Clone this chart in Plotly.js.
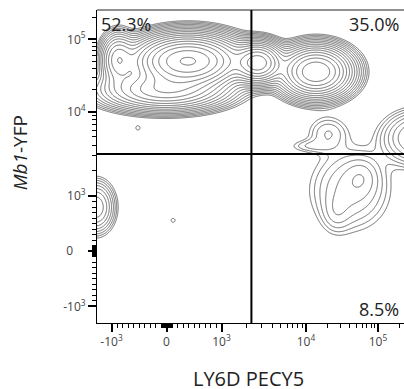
<!DOCTYPE html>
<html>
<head>
<meta charset="utf-8">
<script src="https://cdn.plot.ly/plotly-3.0.1.min.js"></script>
<style>html,body{margin:0;padding:0;background:#fff;}#chart{width:404px;height:389px;}</style>
</head>
<body>
<div id="chart"></div>
<script>
// ---- data ----
// cell populations: centre in LY6D / Mb1-YFP units, spread in display decades, relative weight
const popLy6d    = [390, 2700, 13800, -880, -27,
                    40800, 60100, 26200, 20200, 383000, 10700,
                    -1530, -520, 120];
const popMb1     = [50000, 47200, 35500, 52000, 19900,
                    1180, 1730, 673, 5570, 4860, 3910,
                    800, 6390, 560];
const popSpreadX = [0.45, 0.22, 0.31, 0.16, 0.55,
                    0.44, 0.20, 0.16, 0.24, 0.36, 0.25,
                    0.18, 0.055, 0.055];
const popSpreadY = [0.22, 0.18, 0.22, 0.24, 0.18,
                    0.45, 0.22, 0.22, 0.20, 0.26, 0.08,
                    0.25, 0.055, 0.055];
const popWeight  = [1.0, 0.45, 0.5, 0.12, 0.25,
                    0.016, 0.008, 0.006, 0.010, 0.05, 0.006,
                    0.05, 0.005, 0.005];

const gateLy6d = 2260;
const gateMb1 = 3140;
const quadrantText = ['52.3%', '35.0%', '8.5%'];

const majorVals = [-1000, 0, 1000, 10000, 100000];
const majorTextX = ['-10<sup>3</sup>', '0', '10<sup>3</sup>', '10<sup>4</sup>', '10<sup>5</sup>'];
const majorTextY = ['-10<sup>3</sup>', '0\u00a0\u00a0\u00a0\u00a0', '10<sup>3</sup>', '10<sup>4</sup>', '10<sup>5</sup>'];
const minorVals = [-900,-800,-700,-600,-500,-400,-300,-200,-100,
  -90,-80,-70,-60,-50,-40,-30,-20,-10,10,20,30,40,50,60,70,80,90,
  100,200,300,400,500,600,700,800,900,
  2000,3000,4000,5000,6000,7000,8000,9000,
  20000,30000,40000,50000,60000,70000,80000,90000,200000];

// ---- biexponential-like display scale ----
function toDisplay(v) {
  const a = Math.abs(v);
  let d;
  if (a <= 1000) return v / 1000;
  if (a <= 10000) d = 1 + (Math.log10(a) - 3) * 1.535;
  else d = 2.535 + (Math.log10(a) - 4) * 1.31;
  return v < 0 ? -d : d;
}

const xRange = [-1.264, 4.318];
const yRange = [-1.302, 4.377];

// density grid in display space
const nx = 240, ny = 246;
const gx = [], gy = [];
for (let i = 0; i < nx; i++) gx.push(xRange[0] + (xRange[1] - xRange[0]) * i / (nx - 1));
for (let j = 0; j < ny; j++) gy.push(yRange[0] + (yRange[1] - yRange[0]) * j / (ny - 1));
const cx = popLy6d.map(toDisplay), cy = popMb1.map(toDisplay);
const z = gy.map(yv => gx.map(xv => {
  let s = 0;
  for (let k = 0; k < popWeight.length; k++) {
    const dx = (xv - cx[k]) / popSpreadX[k], dy = (yv - cy[k]) / popSpreadY[k];
    s += popWeight[k] * Math.exp(-0.5 * (dx * dx + dy * dy));
  }
  return Math.log10(s + 1e-12);
}));

const FONT = 'Open Sans, Noto Sans, sans-serif';

const trace = {
  type: 'contour', x: gx, y: gy, z: z,
  contours: {coloring: 'lines', start: -2.4, end: 0.1, size: 0.14, showlabels: false},
  colorscale: [[0, '#6a6a6a'], [1, '#6a6a6a']],
  showscale: false, line: {width: 1, smoothing: 0.6}, hoverinfo: 'skip'
};

function axis(range, text) {
  return {
    range: range, showgrid: false, zeroline: false,
    showline: true, linecolor: '#000', linewidth: 1,
    tickmode: 'array', tickvals: majorVals.map(toDisplay), ticktext: text,
    ticks: 'outside', ticklen: 8, tickwidth: 2, tickcolor: '#000',
    tickfont: {family: FONT, size: 12, color: '#444'},
    minor: {tickmode: 'array', tickvals: minorVals.map(toDisplay), ticks: 'outside', ticklen: 4, tickwidth: 1, tickcolor: '#000'},
    fixedrange: true
  };
}

const layout = {
  width: 404, height: 389,
  margin: {l: 97, r: 0, t: 10, b: 66},
  paper_bgcolor: '#fff', plot_bgcolor: '#fff',
  showlegend: false,
  xaxis: axis(xRange, majorTextX),
  yaxis: axis(yRange, majorTextY),
  shapes: [
    {type: 'line', xref: 'paper', yref: 'paper', x0: 0, x1: 1, y0: 1, y1: 1, line: {color: '#222', width: 1}},
    {type: 'line', xref: 'x', yref: 'paper', x0: toDisplay(gateLy6d), x1: toDisplay(gateLy6d), y0: 0, y1: 1, line: {color: '#000', width: 2}},
    {type: 'line', xref: 'paper', yref: 'y', x0: 0, x1: 1, y0: toDisplay(gateMb1), y1: toDisplay(gateMb1), line: {color: '#000', width: 2}}
  ],
  annotations: [
    {text: quadrantText[0], xref: 'paper', yref: 'paper', x: 0.005, y: 1.0, xanchor: 'left', yanchor: 'top', showarrow: false, font: {family: FONT, size: 18, color: '#222'}},
    {text: quadrantText[1], xref: 'paper', yref: 'paper', x: 0.99, y: 1.0, xanchor: 'right', yanchor: 'top', showarrow: false, font: {family: FONT, size: 18, color: '#222'}},
    {text: quadrantText[2], xref: 'paper', yref: 'paper', x: 0.99, y: 0.0, xanchor: 'right', yanchor: 'bottom', showarrow: false, font: {family: FONT, size: 18, color: '#222'}},
    {text: 'LY6D PECY5', xref: 'paper', yref: 'paper', x: 0.495, y: -0.178, xanchor: 'center', yanchor: 'middle', showarrow: false, font: {family: FONT, size: 20, color: '#222'}},
    {text: '<i>Mb1</i>-YFP', xref: 'paper', yref: 'paper', x: -0.252, y: 0.544, xanchor: 'center', yanchor: 'middle', textangle: -90, showarrow: false, font: {family: FONT, size: 19, color: '#222'}}
  ]
};

Plotly.newPlot('chart', [trace], layout, {displayModeBar: false, staticPlot: true});
</script>
</body>
</html>
